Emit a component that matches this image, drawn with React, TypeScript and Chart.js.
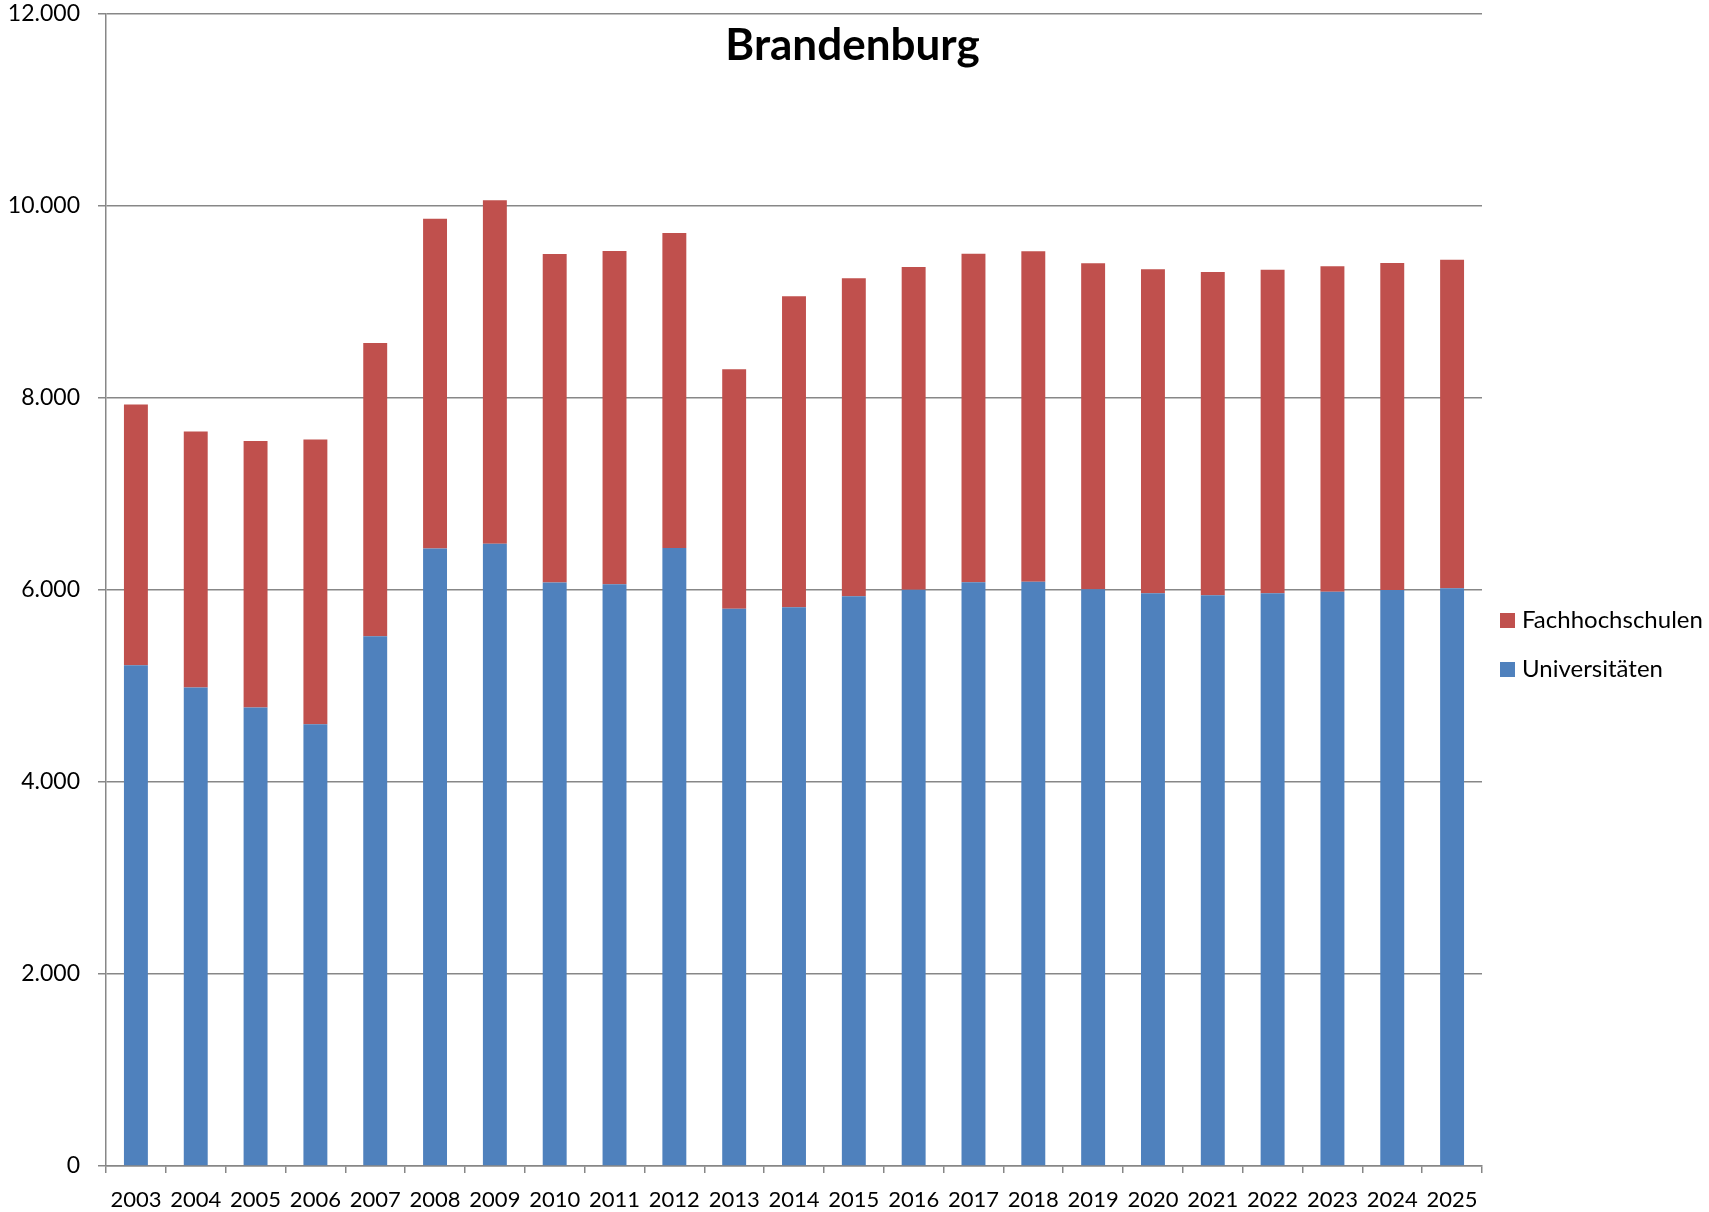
import { useEffect, useRef } from "react";
import { Chart, registerables } from "chart.js";

Chart.register(...registerables);

const years = [
  "2003", "2004", "2005", "2006", "2007", "2008", "2009", "2010", "2011", "2012", "2013", "2014",
  "2015", "2016", "2017", "2018", "2019", "2020", "2021", "2022", "2023", "2024", "2025",
];

const universitaeten = [
  5216, 4984, 4777, 4602, 5519, 6432, 6483, 6077, 6061, 6437, 5805, 5820,
  5934, 6003, 6080, 6087, 6007, 5965, 5945, 5965, 5982, 6000, 6018,
];

const fachhochschulen = [
  2715, 2668, 2775, 2966, 3054, 3436, 3576, 3424, 3469, 3281, 2494, 3239,
  3313, 3362, 3423, 3441, 3396, 3375, 3368, 3372, 3390, 3406, 3423,
];

const yMax = 12000;
const yStep = 2000;
const titleText = "Brandenburg";

const FONT = "Lato, 'Open Sans', 'Noto Sans', sans-serif";
const GRID = "#878787";

function fmt(v: number): string {
  return String(v).replace(/\B(?=(\d{3})+(?!\d))/g, ".");
}

const overlayPlugin = {
  id: "overlay",
  afterDraw(chart: any) {
    const ctx = chart.ctx as CanvasRenderingContext2D;
    const area = chart.chartArea;
    ctx.save();
    ctx.fillStyle = "#000";
    ctx.font = `bold 44px ${FONT}`;
    ctx.textAlign = "center";
    ctx.textBaseline = "alphabetic";
    ctx.fillText(titleText, chart.width / 2 - 2, area.top + 46);

    const items = [...chart.data.datasets].reverse();
    const lx = area.right + 18;
    items.forEach((ds: any, i: number) => {
      const y = 613 + i * 49;
      ctx.fillStyle = ds.backgroundColor;
      ctx.fillRect(lx, y, 15, 15);
      ctx.fillStyle = "#000";
      ctx.font = `24px ${FONT}`;
      ctx.textAlign = "left";
      ctx.textBaseline = "alphabetic";
      ctx.fillText(ds.label, lx + 22, y + 15);
    });
    ctx.restore();
  },
};

export default function App() {
  const ref = useRef<HTMLCanvasElement | null>(null);

  useEffect(() => {
    if (!ref.current) return;
    const chart = new Chart(ref.current, {
      type: "bar",
      data: {
        labels: years,
        datasets: [
          {
            label: "Universitäten",
            data: universitaeten,
            backgroundColor: "#4F81BD",
            borderWidth: 0,
            categoryPercentage: 1,
            barPercentage: 0.4,
          },
          {
            label: "Fachhochschulen",
            data: fachhochschulen,
            backgroundColor: "#C0504D",
            borderWidth: 0,
            categoryPercentage: 1,
            barPercentage: 0.4,
          },
        ],
      },
      options: {
        responsive: false,
        animation: false,
        layout: { padding: { left: 0, right: 227, top: 14, bottom: 0 } },
        plugins: {
          legend: { display: false },
          title: { display: false },
          tooltip: { enabled: false },
        },
        scales: {
          x: {
            stacked: true,
            grid: {
              offset: true,
              drawOnChartArea: false,
              drawTicks: true,
              tickLength: 7,
              color: GRID,
              lineWidth: 1.5,
            },
            border: { display: true, color: GRID, width: 1.5 },
            ticks: {
              color: "#000",
              font: { family: FONT, size: 22 },
              padding: 14,
              maxRotation: 0,
              autoSkip: false,
            },
            afterFit: (s: any) => {
              s.height = 46;
              s.paddingLeft = 0;
              s.paddingRight = 0;
            },
          },
          y: {
            stacked: true,
            min: 0,
            max: yMax,
            grid: {
              drawTicks: true,
              tickLength: 8,
              color: GRID,
              lineWidth: 1.5,
            },
            border: { display: true, color: GRID, width: 1.5 },
            ticks: {
              stepSize: yStep,
              color: "#000",
              font: { family: FONT, size: 23 },
              padding: 18,
              callback: (v: any) => fmt(Number(v)),
            },
            afterFit: (s: any) => {
              s.width = 106;
              s.paddingTop = 0;
              s.paddingBottom = 0;
            },
          },
        },
      },
      plugins: [overlayPlugin],
    });
    return () => chart.destroy();
  }, []);

  return (
    <div style={{ position: "fixed", left: 0, top: 0, width: 1709, height: 1212, background: "#fff" }}>
      <canvas ref={ref} width={1709} height={1212} />
    </div>
  );
}
